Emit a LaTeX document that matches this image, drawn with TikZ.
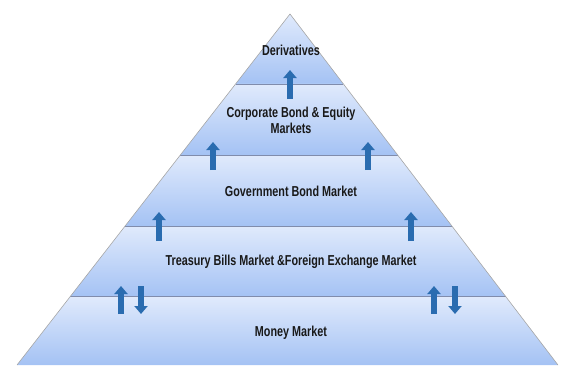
\documentclass[tikz,border=0pt]{standalone}
\usepackage{fontspec}
\newfontfamily\labelfont{Liberation Sans}[FakeStretch=0.75]
\usetikzlibrary{calc, positioning, arrows.meta}
\definecolor{bandtop}{RGB}{224,234,252}
\definecolor{bandbot}{RGB}{164,194,244}
\definecolor{sepgray}{RGB}{128,140,172}
\definecolor{arrowblue}{RGB}{42,108,176}

\begin{document}
\begin{tikzpicture}[x=1pt, y=-1pt, >={Triangle[width=13pt,length=8pt]}]
\tikzstyle{band}=[top color=bandtop, bottom color=bandbot, draw=none]
\tikzstyle{level line}=[draw=sepgray, line width=0.9pt]
\tikzstyle{side line}=[draw=gray!70, line width=0.6pt]
\tikzstyle{flow}=[draw=arrowblue, line width=6pt]
\tikzstyle{tier}=[font=\labelfont\bfseries\fontsize{14.4}{16}\selectfont, align=center, text=black!90]

\useasboundingbox (0,0) rectangle (563,365);

\coordinate (apex) at (290,14);
\coordinate (baseL) at (17,365);
\coordinate (baseR) at (558,365);

% bands of the pyramid
\foreach \t/\b in {0/0.1994, 0.1994/0.4017, 0.4017/0.604, 0.604/0.806, 0.806/1}{
  \shade[band] ($(apex)!\t!(baseL)$) -- ($(apex)!\t!(baseR)$)
    -- ($(apex)!\b!(baseR)$) -- ($(apex)!\b!(baseL)$) -- cycle;
}
\foreach \b in {0.1994, 0.4017, 0.604, 0.806}{
  \draw[level line] ($(apex)!\b!(baseL)$) -- ($(apex)!\b!(baseR)$);
}
\draw[side line] (baseL) -- (apex) -- (baseR);

% labels
\node[tier] (deriv) at (291,50) {Derivatives};
\node[tier] (corp) at (291,120) {Corporate Bond \& Equity\\Markets};
\node[tier] (govt) at (291,191) {Government Bond Market};
\node[tier] (tbill) at (291,262) {Treasury Bills Market \&Foreign Exchange Market};
\node[tier] (money) at (291,333) {Money Market};

% arrows between tiers
\foreach \x/\top/\bot [count=\i] in {290/70/99, 213/142/170, 368/142/170, 159/212/241, 411/212/241, 121/286/314, 434/286/314}{
  \coordinate (up\i a) at (\x,\bot);
  \coordinate (up\i b) at (\x,\top);
  \draw[flow,->] (up\i a) -- (up\i b);
}
\foreach \x [count=\i] in {141, 455}{
  \coordinate (down\i a) at (\x,286);
  \coordinate (down\i b) at (\x,314);
  \draw[flow,->] (down\i a) -- (down\i b);
}
\end{tikzpicture}
\end{document}
